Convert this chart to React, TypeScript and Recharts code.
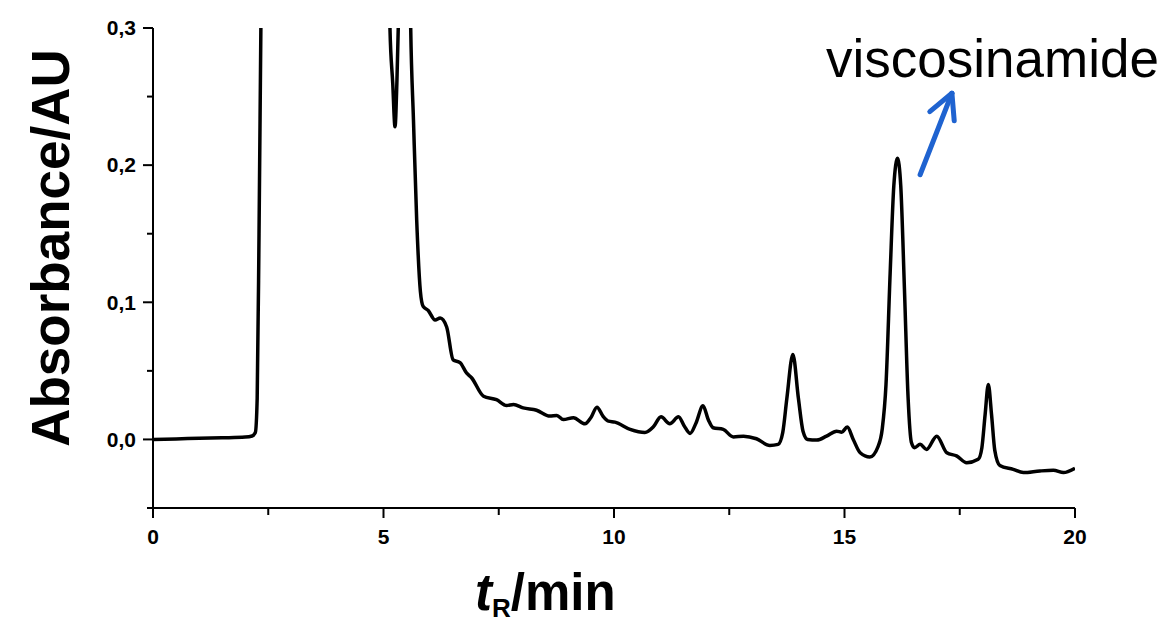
import { LineChart, Line, XAxis, YAxis, ReferenceLine } from 'recharts';

// retention time (min) and absorbance (AU)
const times = [
  0, 0.5, 1.0, 1.5, 2.0, 2.15, 2.22, 2.26, 2.3, 2.34, 2.4, 2.6, 3.0, 3.5, 4.0, 4.5, 5.0, 5.1, 5.14,
  5.2, 5.25, 5.29, 5.32, 5.36, 5.45, 5.55, 5.59, 5.65, 5.72, 5.8, 5.86, 5.97, 6.12, 6.23, 6.37,
  6.51, 6.66, 6.8, 6.91, 7.17, 7.45, 7.67, 7.82, 8.03, 8.32, 8.61, 8.76, 8.9, 9.12, 9.37, 9.5,
  9.63, 9.76, 9.88, 10.02, 10.35, 10.67, 10.85, 11.02, 11.21, 11.4, 11.52, 11.65, 11.78, 11.93,
  12.05, 12.15, 12.37, 12.59, 12.81, 13.09, 13.38, 13.56, 13.66, 13.75, 13.88, 14.0, 14.1, 14.2,
  14.4, 14.61, 14.83, 14.94, 15.06, 15.19, 15.34, 15.55, 15.73, 15.82, 15.9, 15.99, 16.07, 16.15,
  16.22, 16.3, 16.38, 16.45, 16.52, 16.64, 16.78, 17.0, 17.22, 17.43, 17.65, 17.9, 17.98, 18.05,
  18.12, 18.19, 18.26, 18.37, 18.66, 18.88, 19.24, 19.53, 19.75, 20.0,
];

const absorbance = [
  0.0, 0.0004, 0.0008, 0.0012, 0.0017, 0.0025, 0.005, 0.03, 0.15, 0.3, 0.5, 1.0, 1.4, 1.5, 1.3,
  1.0, 0.6, 0.4, 0.3, 0.26, 0.228, 0.26, 0.3, 0.4, 0.55, 0.4, 0.3, 0.233, 0.16, 0.108, 0.097,
  0.094, 0.087, 0.0885, 0.082, 0.058, 0.056, 0.0485, 0.045, 0.0315, 0.029, 0.0247, 0.0255, 0.023,
  0.0213, 0.017, 0.0175, 0.0145, 0.0158, 0.0114, 0.016, 0.0235, 0.017, 0.0133, 0.0126, 0.0073,
  0.005, 0.009, 0.0165, 0.0114, 0.0165, 0.01, 0.0044, 0.012, 0.0245, 0.014, 0.0085, 0.0073,
  0.0018, 0.0024, 0.0005, -0.0044, -0.0036, 0.005, 0.03, 0.062, 0.03, 0.006, 0.0, -0.0005, 0.0024,
  0.006, 0.0053, 0.009, 0.0, -0.0097, -0.0128, -0.005, 0.008, 0.04, 0.121, 0.185, 0.205, 0.185,
  0.11, 0.03, -0.002, -0.006, -0.0036, -0.0073, 0.0024, -0.0097, -0.012, -0.017, -0.0145, -0.006,
  0.018, 0.04, 0.018, -0.008, -0.019, -0.0218, -0.0242, -0.023, -0.0225, -0.0242, -0.021,
];

const xTicks = [0, 2.5, 5, 7.5, 10, 12.5, 15, 17.5, 20];
const xMajor = [0, 5, 10, 15, 20];
const yTicks = [-0.05, 0, 0.05, 0.1, 0.15, 0.2, 0.25, 0.3];
const yMajor = [0, 0.1, 0.2, 0.3];

const data = times.map((t, i) => ({ t, a: absorbance[i] }));

const FONT = '"Liberation Sans", Arial, sans-serif';
const ARROW = '#1f63d0';

const isMajor = (list: number[], v: number) => list.some((m) => Math.abs(m - v) < 1e-9);

const XTick = ({ x, y, payload }: any) => {
  const major = isMajor(xMajor, payload.value);
  return (
    <g>
      <line x1={x} x2={x} y1={y} y2={y + (major ? 10 : 7)} stroke="#000" strokeWidth={2} />
      {major && (
        <text x={x} y={y + 29} dy="0.35em" textAnchor="middle" fontSize={21} fontWeight="bold" fontFamily={FONT} fill="#000">
          {payload.value}
        </text>
      )}
    </g>
  );
};

const YTick = ({ x, y, payload }: any) => {
  const major = isMajor(yMajor, payload.value);
  return (
    <g>
      <line x1={x} x2={x - (major ? 10 : 6)} y1={y} y2={y} stroke="#000" strokeWidth={2} />
      {major && (
        <text x={x - 17} y={y} dy="0.35em" textAnchor="end" fontSize={21} fontWeight="bold" fontFamily={FONT} fill="#000">
          {payload.value.toFixed(1).replace('.', ',')}
        </text>
      )}
    </g>
  );
};

export default function App() {
  return (
    <div style={{ position: 'absolute', left: 0, top: 0, width: 1169, height: 626, background: '#fff' }}>
      <LineChart width={1169} height={626} data={data} margin={{ top: 28, right: 94, bottom: 88, left: 53 }}>
        <XAxis
          dataKey="t"
          type="number"
          domain={[0, 20]}
          ticks={xTicks}
          interval={0}
          allowDataOverflow
          height={30}
          tickSize={0}
          tickMargin={0}
          tick={<XTick />}
          axisLine={{ stroke: '#000', strokeWidth: 2 }}
        />
        <YAxis
          type="number"
          domain={[-0.05, 0.3]}
          ticks={yTicks}
          interval={0}
          allowDataOverflow
          width={100}
          tickSize={0}
          tickMargin={0}
          tick={<YTick />}
          axisLine={{ stroke: '#000', strokeWidth: 2 }}
        />
        <Line
          type="monotone"
          dataKey="a"
          stroke="#000"
          strokeWidth={3.5}
          dot={false}
          isAnimationActive={false}
        />
        <ReferenceLine
          segment={[{ x: 16.64, y: 0.193 }, { x: 17.33, y: 0.2524 }]}
          stroke={ARROW}
          strokeWidth={5}
          strokeLinecap="round"
          ifOverflow="visible"
        />
        <ReferenceLine
          segment={[{ x: 16.85, y: 0.239 }, { x: 17.33, y: 0.2524 }]}
          stroke={ARROW}
          strokeWidth={5}
          strokeLinecap="round"
          ifOverflow="visible"
        />
        <ReferenceLine
          segment={[{ x: 17.38, y: 0.2324 }, { x: 17.33, y: 0.2524 }]}
          stroke={ARROW}
          strokeWidth={5}
          strokeLinecap="round"
          ifOverflow="visible"
        />
      </LineChart>
      <svg width={1169} height={626} style={{ position: 'absolute', left: 0, top: 0, pointerEvents: 'none' }}>
        <text x={826} y={77} fontSize={53} fontFamily={FONT} fill="#000">
          viscosinamide
        </text>
        <text
          transform="translate(69, 248) rotate(-90)"
          textAnchor="middle"
          fontSize={53}
          fontWeight="bold"
          fontFamily={FONT}
          fill="#000"
        >
          Absorbance/AU
        </text>
        <text x={475} y={610} fontSize={51} fontWeight="bold" fontFamily={FONT} fill="#000">
          <tspan fontStyle="italic">t</tspan>
          <tspan fontSize={26} dy={7}>R</tspan>
          <tspan dy={-7}>/min</tspan>
        </text>
      </svg>
    </div>
  );
}
